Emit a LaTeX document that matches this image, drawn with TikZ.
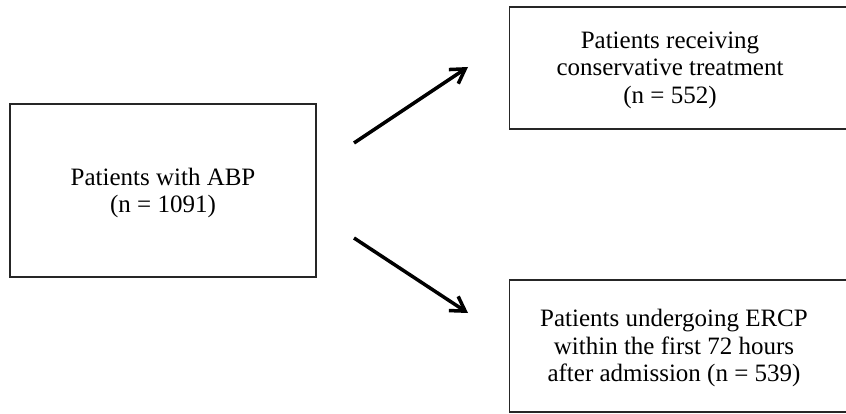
\documentclass[tikz,border=0pt]{standalone}
\usepackage{fontspec}
\setmainfont{Liberation Serif}
\usetikzlibrary{arrows.meta}
\begin{document}
\begin{tikzpicture}[x=1pt,y=-1pt,
  boxstyle/.style={draw=black!85,line width=1.3pt,fill=white,inner sep=0pt},
  txt/.style={align=center,inner sep=0pt,font=\fontsize{25}{27.5}\selectfont},
  arr/.style={line width=3.5pt,-{Straight Barb[length=14pt,width=17pt,line width=3.5pt]}}]
\useasboundingbox (0,0) rectangle (846,414);
\clip (0,0) rectangle (846,414);
\node[boxstyle,minimum width=306pt,minimum height=173pt] (abpbox) at (163,190.5) {};
\node[txt] (abp) at (163,193) {Patients with ABP\\(n = 1091)};
\node[boxstyle,minimum width=360pt,minimum height=122pt,anchor=west] (consbox) at (509,68) {};
\node[txt] (cons) at (670,70) {Patients receiving\\conservative treatment\\(n = 552)};
\node[boxstyle,minimum width=360pt,minimum height=132pt,anchor=west] (ercpbox) at (509,346) {};
\node[txt] (ercp) at (674,348) {Patients undergoing ERCP\\within the first 72 hours\\after admission (n = 539)};
\coordinate (a1) at (354,143);
\coordinate (t1) at (468,67);
\coordinate (a2) at (354,238);
\coordinate (t2) at (468,313);
\draw[arr] (a1) -- (t1);
\draw[arr] (a2) -- (t2);
\end{tikzpicture}
\end{document}
